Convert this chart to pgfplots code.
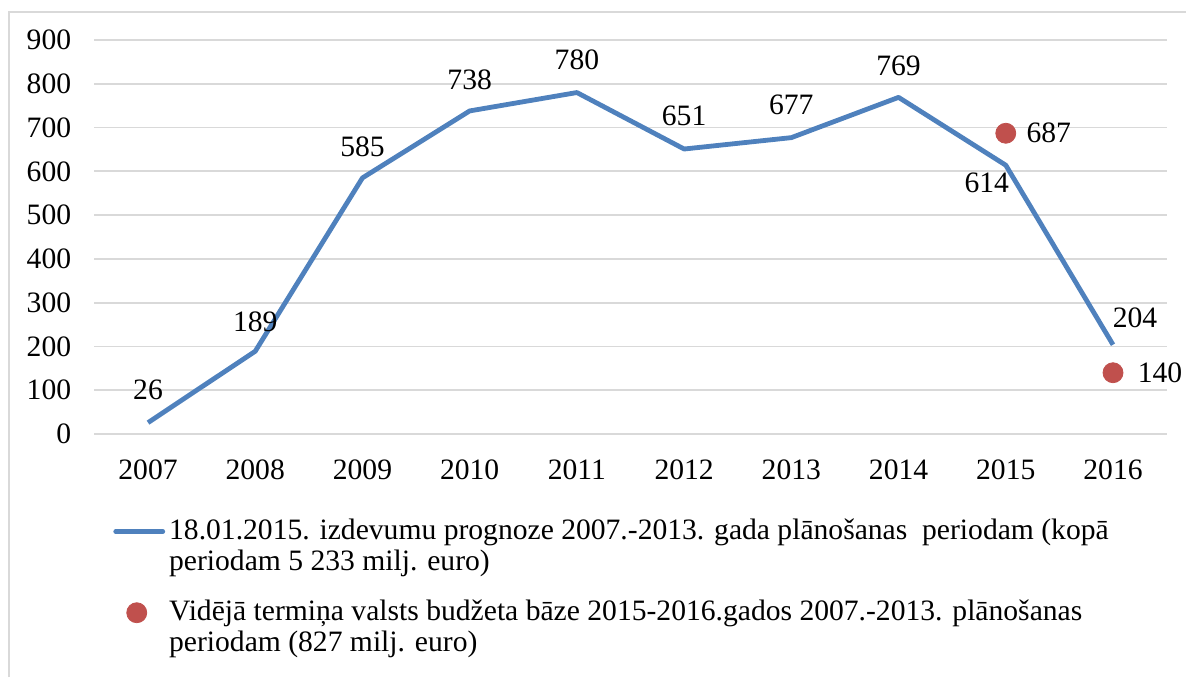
\documentclass[border=0pt]{standalone}
\usepackage{fontspec}
\setmainfont{Liberation Serif}
\usepackage{pgfplots}
\usepackage{pgfplotstable}
\pgfplotsset{compat=1.18}
\definecolor{lineblue}{HTML}{4F81BD}
\definecolor{dotred}{HTML}{C0504D}
\definecolor{gridgray}{HTML}{D9D9D9}
\pgfplotstableread{
x y dx dy
2007 26 0 16.5
2008 189 0 14.5
2009 585 0 15.5
2010 738 0 15.5
2011 780 0 16.5
2012 651 0 16.5
2013 677 0 16.5
2014 769 0 16
2015 614 -9.5 -9
2016 204 11 13.5
}\forecast
\pgfplotstableread{
x y dx dy
2015 687 21.5 0
2016 140 23.5 0
}\budget
\newcommand\chartfont{\fontsize{14.8}{15.5}\selectfont}
\begin{document}
\chartfont
\begin{tikzpicture}
\useasboundingbox (0,0) rectangle (593pt,338.5pt);
\draw[gridgray, line width=0.8pt] (4.5pt,0pt) -- (4.5pt,332.5pt) -- (593pt,332.5pt);
\begin{axis}[
  at={(47.2pt,121.5pt)}, anchor=south west,
  scale only axis, width=536.1pt, height=197pt,
  xmin=2006.5, xmax=2016.5, ymin=0, ymax=900,
  xtick={2007,2008,...,2016}, ytick={0,100,...,900},
  /pgf/number format/assume math mode=true,
  /pgf/number format/1000 sep={},
  axis line style={draw=none},
  major tick length=0pt,
  ymajorgrids, major grid style={gridgray, line width=0.9pt},
  tick label style={font=\chartfont},
  yticklabel style={xshift=-6.5pt},
  xticklabel style={yshift=-8pt},
  nodes near coords,
  every node near coord/.append style={anchor=center, xshift=\dx pt, yshift=\dy pt, black, font=\chartfont},
  visualization depends on={\thisrow{dx} \as \dx},
  visualization depends on={\thisrow{dy} \as \dy},
  legend style={at={(rel axis cs:0.0173,-0.205)}, anchor=north west, draw=none, fill=none, inner sep=0pt, row sep=24pt,
    font=\chartfont, legend cell align=left},
]
\addplot[lineblue, line width=2.4pt, line join=round, no markers,
  legend image code/.code={\draw[lineblue, line width=2.4pt, line cap=round] (0pt,0pt) -- (23.5pt,0pt);}]
  table[x=x, y=y] {\forecast};
\addlegendentry{\parbox[t]{500pt}{\raggedright 18.01.2015. izdevumu prognoze 2007.-2013. gada plānošanas\ \ periodam (kopā\\periodam 5 233 milj. euro)}}
\addplot[only marks, mark=*, mark size=5pt, dotred, mark options={draw=dotred, fill=dotred},
  legend image code/.code={\fill[dotred] (10.5pt,0pt) circle (5pt);}]
  table[x=x, y=y] {\budget};
\addlegendentry{\parbox[t]{500pt}{\raggedright Vidējā termiņa valsts budžeta bāze 2015-2016.gados 2007.-2013. plānošanas\\periodam (827 milj. euro)}}
\end{axis}
\end{tikzpicture}
\end{document}
